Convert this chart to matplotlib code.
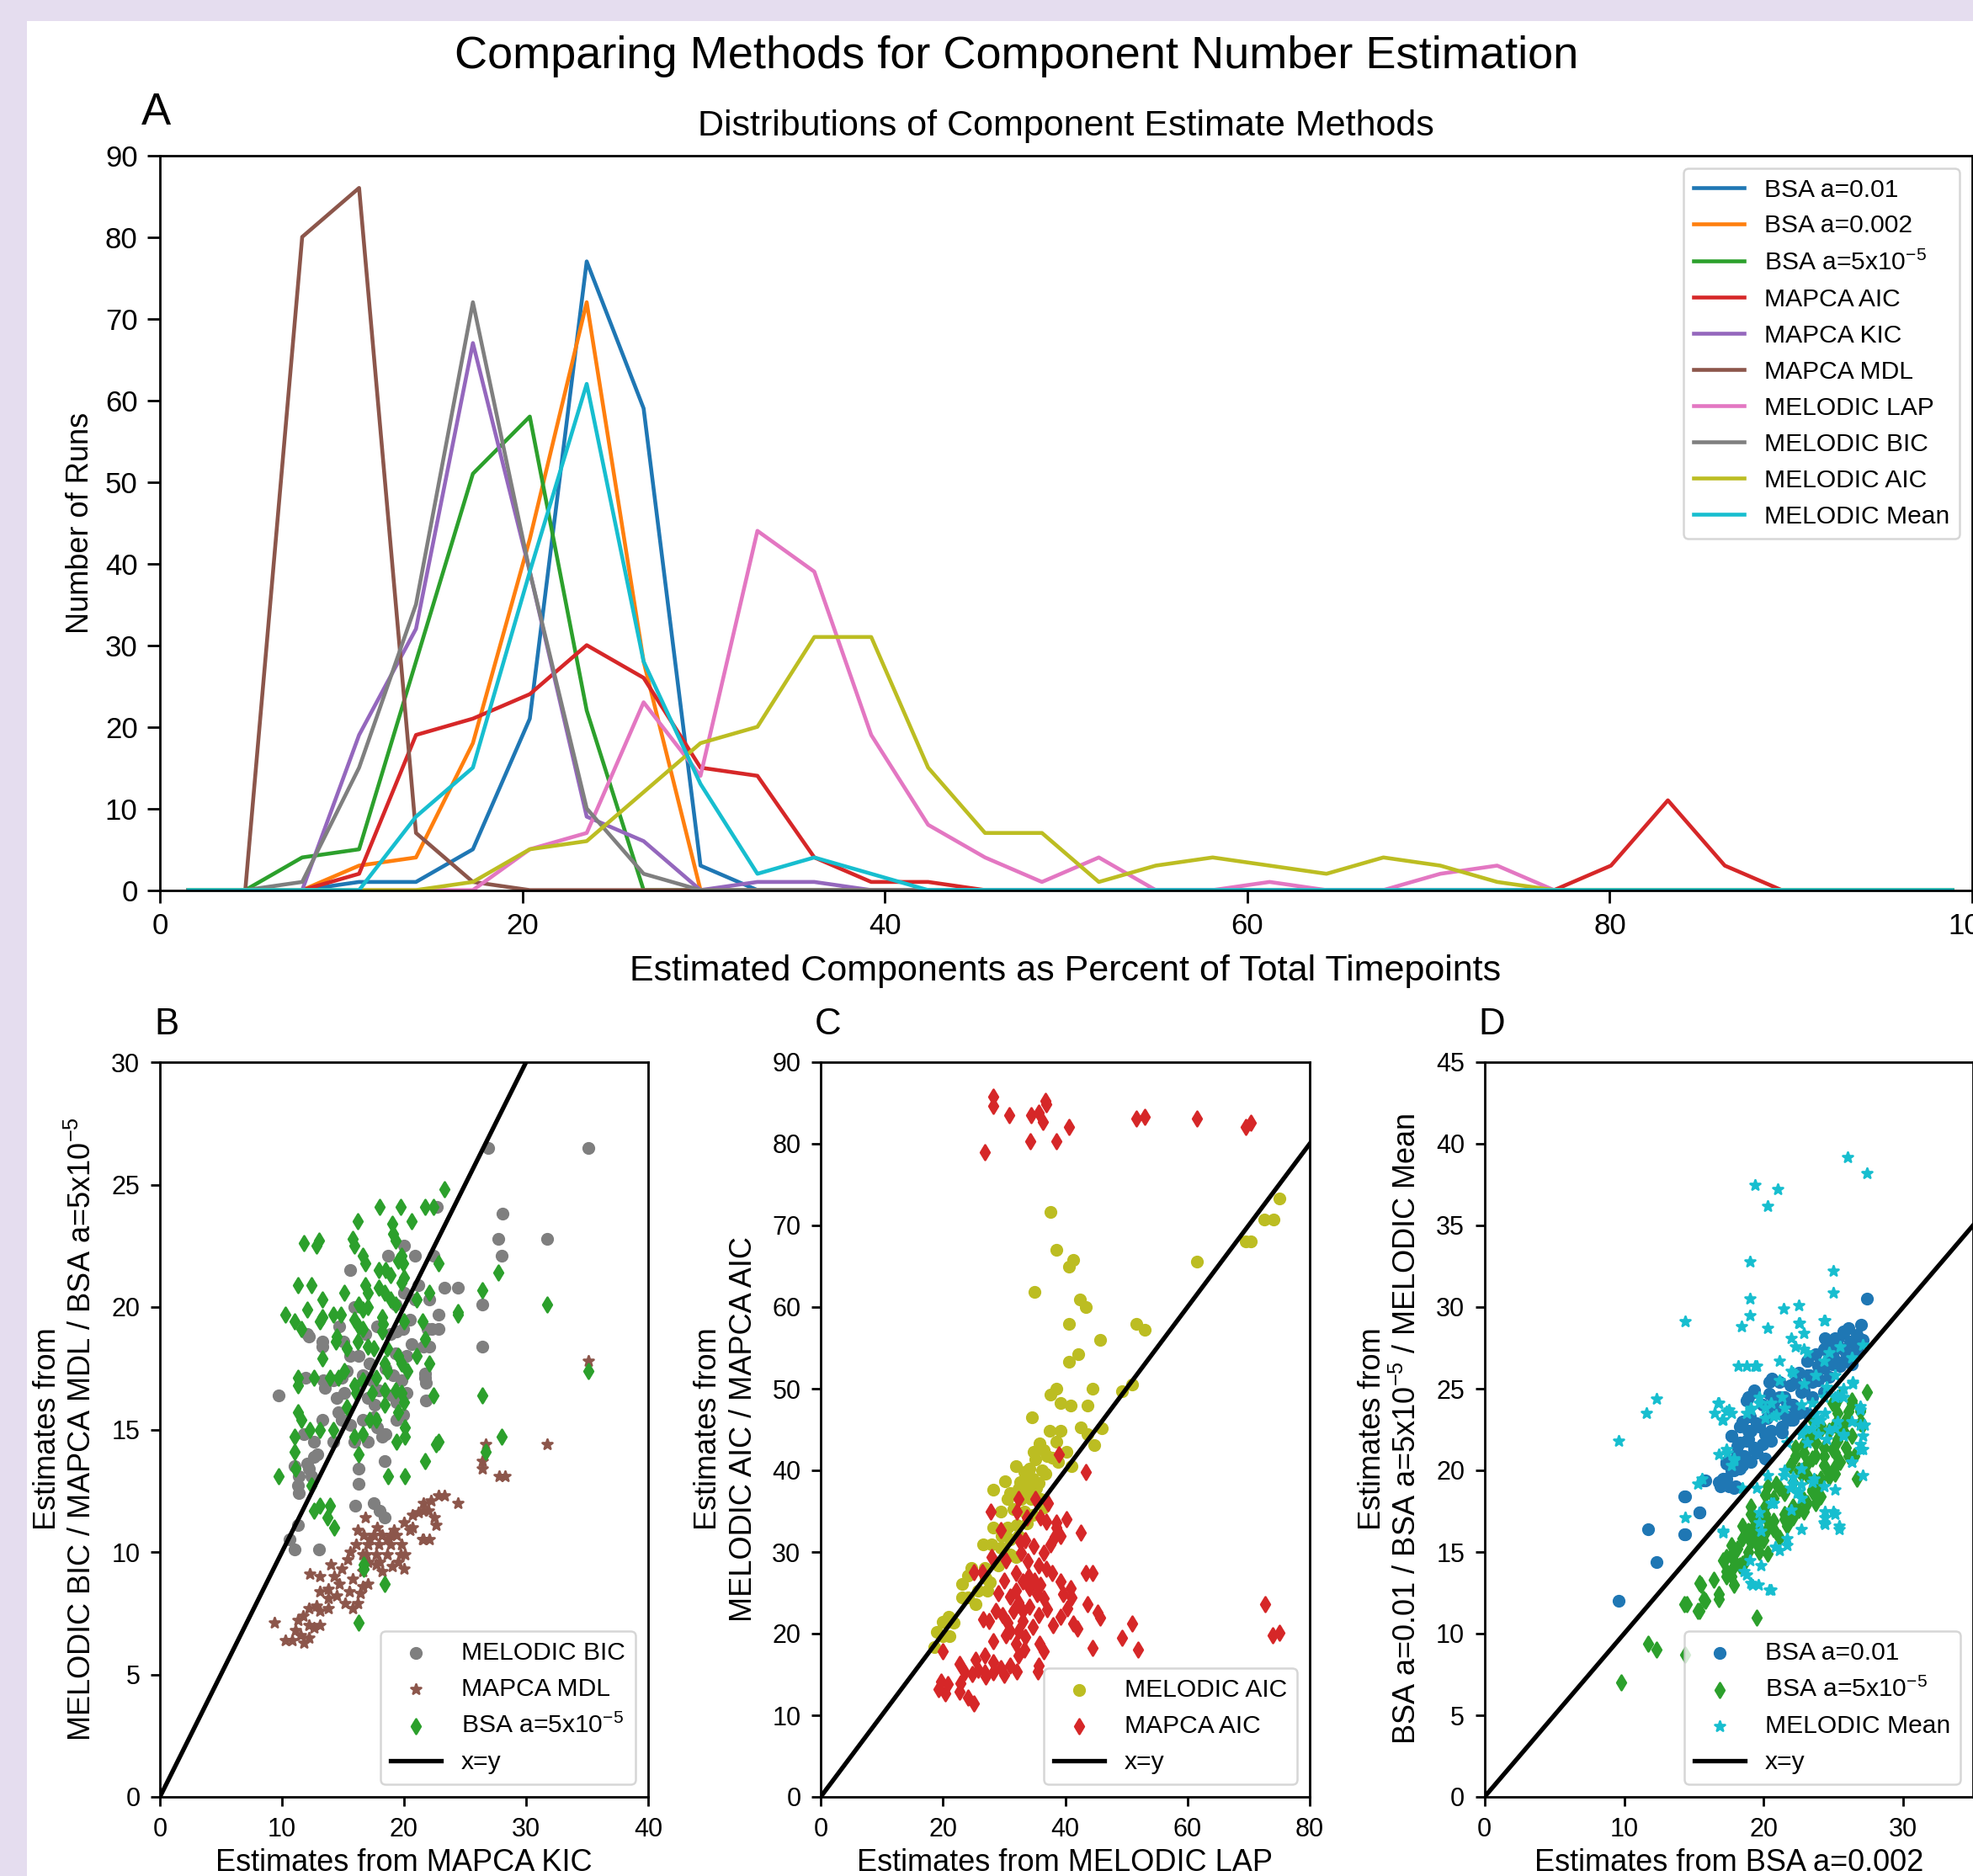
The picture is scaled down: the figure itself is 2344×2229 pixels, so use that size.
import numpy as np
import matplotlib
matplotlib.use('Agg')
import matplotlib.pyplot as plt
from matplotlib import font_manager
from matplotlib.patches import Rectangle

W, H = 2344, 2229
DPI = 100

plt.rcParams['font.family'] = ['Liberation Sans', 'DejaVu Sans']
plt.rcParams['mathtext.fontset'] = 'custom'
plt.rcParams['mathtext.rm'] = 'Liberation Sans'
plt.rcParams['mathtext.it'] = 'Liberation Sans:italic'
plt.rcParams['mathtext.bf'] = 'Liberation Sans:bold'
plt.rcParams['axes.linewidth'] = 2.0

# ---------------- panel A: histogram lines ----------------
bin_centers = [1.57, 4.71, 7.85, 10.99, 14.13, 17.27, 20.41, 23.55, 26.69, 29.83,
               32.97, 36.11, 39.25, 42.39, 45.53, 48.67, 51.81, 54.95, 58.09, 61.23,
               64.37, 67.51, 70.65, 73.79, 76.93, 80.07, 83.21, 86.35, 89.49, 92.63,
               95.77, 98.91]

bsa_01 = [0, 0, 0, 1, 1, 5, 21, 77, 59, 3, 0, 0, 0, 0, 0, 0,
          0, 0, 0, 0, 0, 0, 0, 0, 0, 0, 0, 0, 0, 0, 0, 0]
bsa_002 = [0, 0, 0, 3, 4, 18, 43, 72, 28, 0, 0, 0, 0, 0, 0, 0,
           0, 0, 0, 0, 0, 0, 0, 0, 0, 0, 0, 0, 0, 0, 0, 0]
bsa_5e5 = [0, 0, 4, 5, 28, 51, 58, 22, 0, 0, 0, 0, 0, 0, 0, 0,
           0, 0, 0, 0, 0, 0, 0, 0, 0, 0, 0, 0, 0, 0, 0, 0]
mapca_aic = [0, 0, 0, 2, 19, 21, 24, 30, 26, 15, 14, 4, 1, 1, 0, 0,
             0, 0, 0, 0, 0, 0, 0, 0, 0, 3, 11, 3, 0, 0, 0, 0]
mapca_kic = [0, 0, 0, 19, 32, 67, 39, 9, 6, 0, 1, 1, 0, 0, 0, 0,
             0, 0, 0, 0, 0, 0, 0, 0, 0, 0, 0, 0, 0, 0, 0, 0]
mapca_mdl = [0, 0, 80, 86, 7, 1, 0, 0, 0, 0, 0, 0, 0, 0, 0, 0,
             0, 0, 0, 0, 0, 0, 0, 0, 0, 0, 0, 0, 0, 0, 0, 0]
melodic_lap = [0, 0, 0, 0, 0, 0, 5, 7, 23, 14, 44, 39, 19, 8, 4, 1,
               4, 0, 0, 1, 0, 0, 2, 3, 0, 0, 0, 0, 0, 0, 0, 0]
melodic_bic = [0, 0, 1, 15, 35, 72, 39, 10, 2, 0, 0, 0, 0, 0, 0, 0,
               0, 0, 0, 0, 0, 0, 0, 0, 0, 0, 0, 0, 0, 0, 0, 0]
melodic_aic = [0, 0, 0, 0, 0, 1, 5, 6, 12, 18, 20, 31, 31, 15, 7, 7,
               1, 3, 4, 3, 2, 4, 3, 1, 0, 0, 0, 0, 0, 0, 0, 0]
melodic_mean = [0, 0, 0, 0, 9, 15, 39, 62, 28, 13, 2, 4, 2, 0, 0, 0,
                0, 0, 0, 0, 0, 0, 0, 0, 0, 0, 0, 0, 0, 0, 0, 0]

hist_series = [bsa_01, bsa_002, bsa_5e5, mapca_aic, mapca_kic, mapca_mdl,
               melodic_lap, melodic_bic, melodic_aic, melodic_mean]
hist_labels = ['BSA a=0.01', 'BSA a=0.002', 'BSA a=5x10$^{-5}$', 'MAPCA AIC',
               'MAPCA KIC', 'MAPCA MDL', 'MELODIC LAP', 'MELODIC BIC',
               'MELODIC AIC', 'MELODIC Mean']

# ---------------- panel B: x = MAPCA KIC ----------------
b_melodic_bic = [
    (26.9, 26.5), (35.1, 26.5), (28.1, 23.8), (27.7, 22.8), (31.7, 22.8), (28.0, 22.1),
    (26.4, 20.1), (26.4, 18.4), (23.3, 20.8), (24.4, 20.8), (22.7, 24.1), (9.7, 16.4),
    (11.0, 10.1), (13.0, 10.1), (11.3, 11.1), (11.4, 12.4), (11.3, 12.7), (16.0, 11.9),
    (18.0, 11.7), (18.4, 11.4), (16.3, 13.4), (16.3, 12.8), (18.4, 13.7), (12.2, 13.4),
    (12.6, 13.9), (12.2, 18.8), (20.0, 22.5), (18.7, 22.1), (20.9, 22.1), (22.4, 22.1),
    (15.6, 21.5), (22.1, 20.3), (20.9, 20.3), (15.9, 20.0), (19.3, 20.1), (22.8, 19.7),
    (22.3, 19.1), (22.8, 19.1), (12.1, 18.9), (14.7, 19.2), (13.3, 18.6), (13.3, 18.4),
    (17.8, 19.2), (18.9, 18.9), (19.4, 19.0), (19.9, 19.1), (20.6, 18.5), (21.6, 18.4),
    (22.1, 18.4), (15.6, 18.0), (16.3, 18.0), (17.2, 17.7), (19.3, 18.1), (20.2, 18.0),
    (21.7, 17.3), (21.7, 17.1), (11.9, 17.1), (13.4, 17.0), (14.2, 17.0), (15.3, 17.4),
    (16.6, 17.2), (17.4, 17.0), (19.1, 17.2), (19.8, 17.0), (20.2, 16.5), (13.5, 16.7),
    (14.5, 16.3), (15.1, 16.5), (17.0, 16.3), (17.6, 16.0), (17.9, 16.6), (19.0, 16.4),
    (19.4, 16.1), (14.6, 15.7), (14.9, 15.4), (15.6, 15.2), (16.6, 15.4), (17.5, 15.5),
    (17.8, 15.1), (18.4, 14.8), (19.4, 15.4), (19.9, 15.6), (13.3, 15.4), (11.8, 14.8),
    (12.6, 14.5), (14.2, 14.5), (15.9, 14.5), (17.0, 14.5), (18.2, 14.7), (18.5, 14.8),
    (12.9, 14.0), (12.1, 13.6), (11.0, 13.5), (11.4, 13.1), (12.4, 13.1), (21.9, 19.1),
    (21.8, 16.9), (21.8, 16.2), (14.9, 17.1), (16.1, 16.8), (18.5, 17.5), (20.5, 19.5),
    (21.2, 20.9), (20.0, 20.6), (16.8, 18.9), (15.0, 18.6), (17.5, 12.0), (10.6, 10.5),
]
b_mapca_mdl = [
    (35.1, 17.8), (31.7, 14.4), (26.7, 14.4), (26.4, 13.7), (26.4, 13.4), (27.8, 13.1),
    (28.3, 13.1), (24.4, 12.0), (23.3, 12.3), (22.8, 12.3), (21.6, 12.0), (22.2, 12.1),
    (21.6, 11.7), (20.7, 11.5), (20.0, 11.2), (22.5, 11.4), (22.6, 11.1), (22.1, 10.5),
    (21.6, 10.5), (18.9, 10.7), (19.4, 10.7), (18.2, 10.7), (17.5, 10.7), (16.7, 10.7),
    (16.8, 11.4), (16.1, 10.3), (17.0, 10.3), (17.9, 10.3), (18.9, 10.3), (19.8, 10.3),
    (15.6, 10.0), (16.6, 9.9), (17.7, 9.9), (18.6, 9.9), (19.7, 9.9), (20.1, 9.9),
    (20.0, 9.3), (19.5, 9.6), (17.7, 9.5), (18.2, 9.2), (17.0, 9.6), (15.4, 9.7),
    (16.6, 9.2), (16.6, 8.6), (16.4, 8.3), (17.0, 8.7), (15.8, 8.9), (15.5, 8.4),
    (15.2, 7.9), (15.8, 7.7), (16.2, 7.9), (14.3, 9.0), (14.7, 8.7), (13.8, 8.5),
    (13.1, 9.0), (12.3, 9.1), (13.8, 8.1), (14.5, 8.2), (13.1, 8.4), (12.8, 7.8),
    (12.2, 7.7), (13.1, 7.6), (13.8, 7.7), (11.7, 7.4), (11.3, 7.2), (12.2, 7.0),
    (12.6, 6.9), (13.1, 7.0), (11.1, 6.8), (11.5, 6.6), (12.2, 6.5), (11.8, 6.3),
    (10.3, 6.4), (10.8, 6.4), (9.4, 7.1), (20.5, 10.9), (20.7, 11.0), (21.2, 11.6),
    (22.0, 11.7), (21.5, 10.5), (17.2, 10.5), (18.6, 10.5), (19.2, 10.9), (17.8, 11.0),
    (16.2, 10.9), (18.0, 9.6), (19.0, 9.4), (16.9, 9.9), (14.9, 9.3), (14.0, 9.5),
]
b_bsa_5e5 = [
    (18.0, 24.1), (19.7, 24.1), (21.7, 24.1), (22.4, 24.1), (16.2, 23.5), (19.0, 23.4),
    (20.6, 23.5), (11.8, 22.6), (12.8, 22.5), (13.0, 22.7), (15.8, 22.8), (15.9, 22.5),
    (19.1, 23.0), (19.3, 22.7), (16.6, 22.1), (16.8, 21.8), (19.8, 22.1), (19.9, 21.8),
    (19.5, 21.9), (22.8, 21.8), (17.9, 21.5), (18.5, 21.5), (18.9, 21.3), (11.3, 20.9),
    (12.4, 20.9), (15.1, 20.6), (16.8, 20.9), (17.0, 20.6), (17.9, 20.8), (18.4, 20.6),
    (18.9, 20.3), (19.3, 20.1), (19.8, 21.0), (20.0, 21.2), (21.0, 20.3), (22.1, 20.6),
    (13.3, 20.3), (12.1, 19.9), (10.3, 19.7), (11.0, 19.4), (11.6, 19.1), (13.3, 19.6),
    (13.1, 19.4), (14.2, 19.7), (14.8, 19.7), (16.3, 20.1), (16.6, 19.9), (17.0, 20.0),
    (15.9, 19.5), (16.3, 19.2), (16.6, 19.1), (18.2, 19.6), (18.3, 19.3), (18.2, 19.0),
    (20.0, 19.4), (21.5, 19.4), (24.4, 19.7), (14.5, 18.8), (14.4, 18.6), (15.3, 18.3),
    (16.2, 18.6), (17.0, 18.4), (17.5, 18.3), (18.6, 18.3), (19.5, 18.0), (19.8, 17.7),
    (21.0, 18.0), (13.3, 17.9), (18.4, 17.7), (18.6, 17.4), (22.1, 17.7), (21.7, 18.7),
    (11.3, 17.1), (11.3, 16.8), (12.6, 17.1), (13.9, 17.1), (14.6, 17.1), (15.1, 17.4),
    (15.9, 16.8), (16.1, 16.5), (16.6, 17.0), (17.7, 17.1), (17.4, 16.5), (18.4, 16.6),
    (19.3, 16.6), (19.8, 16.5), (20.0, 16.1), (19.5, 15.7), (20.3, 17.4), (22.4, 16.4),
    (26.4, 16.4), (11.3, 15.7), (11.6, 15.4), (12.3, 15.0), (13.1, 15.0), (14.2, 15.0),
    (15.3, 15.9), (15.9, 14.7), (16.6, 14.8), (17.2, 15.4), (17.7, 15.4), (18.4, 16.0),
    (19.4, 14.5), (20.1, 14.7), (20.1, 15.1), (22.8, 14.5), (11.0, 14.7), (11.0, 14.1),
    (16.3, 14.0), (21.7, 13.7), (18.7, 13.1), (20.1, 13.1), (9.7, 13.1), (11.1, 13.4),
    (28.0, 14.7), (27.7, 21.4), (26.4, 20.7), (23.3, 24.8), (24.4, 19.8), (22.6, 14.4),
    (16.3, 7.1), (18.4, 8.7), (16.7, 9.5), (16.7, 9.3), (14.3, 11.0), (13.7, 11.4),
    (13.1, 11.9), (12.6, 11.7), (13.9, 11.9), (12.4, 12.7), (31.7, 20.1), (35.1, 17.4),
    (26.7, 14.1),
]

# ---------------- panel C: x = MELODIC LAP ----------------
c_melodic_aic = [
    (37.6, 71.7), (38.6, 67.0), (40.6, 65.0), (41.3, 65.8), (35.0, 61.9), (42.4, 60.9),
    (43.4, 60.0), (40.6, 57.9), (51.6, 57.9), (53.0, 57.2), (45.7, 56.0), (42.2, 54.2),
    (40.6, 53.3), (61.5, 65.6), (69.5, 68.0), (70.4, 68.0), (72.5, 70.7), (74.1, 70.7),
    (75.1, 73.3), (49.3, 49.7), (50.9, 50.5), (37.6, 49.3), (38.6, 50.0), (44.5, 50.0),
    (39.2, 48.2), (40.9, 47.9), (43.6, 47.9), (34.6, 46.5), (37.4, 44.8), (39.2, 44.8),
    (42.5, 45.3), (43.6, 44.4), (44.7, 43.1), (46.0, 45.2), (38.6, 43.5), (40.2, 42.3),
    (41.1, 40.5), (35.8, 43.3), (36.5, 42.5), (34.9, 42.3), (35.1, 41.3), (37.0, 41.8),
    (37.9, 41.5), (38.8, 41.0), (31.9, 40.5), (33.3, 39.8), (33.7, 39.2), (34.7, 39.0),
    (35.6, 38.5), (28.2, 37.6), (30.1, 38.7), (31.0, 37.2), (32.4, 37.7), (33.7, 37.7),
    (30.5, 36.5), (32.8, 36.5), (34.4, 36.5), (36.0, 36.5), (36.5, 35.5), (31.5, 35.3),
    (33.3, 35.0), (34.7, 34.5), (29.4, 35.0), (28.2, 33.0), (30.5, 33.0), (32.1, 33.3),
    (33.7, 33.5), (29.6, 32.0), (31.0, 31.5), (32.4, 32.0), (26.6, 30.9), (28.0, 30.9),
    (29.4, 30.5), (31.9, 29.4), (31.0, 29.7), (24.6, 28.0), (26.9, 28.0), (29.1, 28.4),
    (23.2, 24.4), (24.1, 24.4), (25.3, 23.6), (25.7, 25.3), (27.3, 25.3), (20.9, 22.1),
    (20.0, 21.4), (21.8, 21.3), (19.0, 20.2), (19.9, 19.7), (21.1, 19.7), (18.6, 18.3),
    (23.2, 26.1), (24.1, 27.1), (27.0, 26.8), (27.7, 26.3), (35.3, 37.8), (34.0, 38.2),
    (36.8, 39.6), (32.6, 38.6), (34.2, 40.2), (36.2, 40.0),
]
c_mapca_aic = [
    (28.2, 85.8), (28.2, 84.6), (30.9, 83.5), (34.4, 83.5), (35.6, 83.8), (36.7, 85.3),
    (36.9, 84.8), (36.4, 82.7), (40.6, 82.1), (34.3, 80.3), (38.6, 80.3), (26.9, 79.0),
    (51.6, 83.1), (53.0, 83.3), (61.6, 83.1), (69.5, 82.1), (70.4, 82.6),
    (72.7, 23.6), (73.9, 19.8), (75.1, 20.1), (50.9, 21.2), (49.3, 19.5), (51.9, 18.0),
    (44.5, 18.2), (45.7, 22.0), (45.3, 22.6), (43.6, 23.6), (43.4, 27.4), (44.5, 27.4),
    (42.5, 32.4), (43.4, 39.8), (39.0, 42.0), (40.2, 34.0), (38.6, 33.0), (39.3, 32.0),
    (40.9, 25.6), (41.1, 24.4), (42.0, 20.6), (41.3, 21.2),
    (27.8, 35.0), (32.4, 36.5), (35.1, 36.5), (29.4, 32.7), (32.1, 35.0), (33.7, 34.2),
    (36.0, 34.2), (36.9, 33.7), (38.6, 33.6), (28.0, 29.4), (25.0, 27.5), (26.4, 27.5),
    (33.5, 31.4), (34.9, 30.7), (36.5, 29.9), (37.6, 30.9), (38.3, 31.9), (32.8, 29.9),
    (33.9, 28.9), (35.6, 28.4), (36.9, 27.9), (37.9, 27.4), (39.2, 26.4), (31.9, 27.4),
    (33.1, 26.4), (34.2, 25.6), (35.4, 24.8), (36.5, 24.3), (39.7, 24.8), (40.4, 23.1),
    (39.2, 22.1), (31.9, 25.3), (32.4, 23.8), (31.5, 22.8), (33.1, 22.8), (34.2, 23.3),
    (35.6, 22.3), (26.6, 21.8), (27.5, 21.5), (28.7, 22.8), (29.8, 22.3), (30.5, 21.3),
    (31.0, 20.3), (32.4, 20.3), (33.5, 19.6), (34.7, 20.8), (35.8, 18.8), (36.5, 17.8),
    (28.2, 19.1), (30.3, 19.8), (31.9, 18.8), (32.4, 17.3), (33.3, 18.0), (26.9, 17.3),
    (28.2, 16.5), (29.4, 15.8), (31.0, 16.1), (32.1, 15.4), (25.3, 16.8), (25.7, 15.6),
    (26.9, 15.3), (28.2, 15.3), (22.7, 16.3), (23.6, 15.3), (19.9, 17.8), (19.7, 14.1),
    (20.8, 13.8), (19.3, 13.2), (20.4, 12.7), (22.7, 12.9), (24.1, 12.2), (25.0, 11.4),
    (22.9, 13.9), (24.8, 15.1), (35.6, 16.1), (35.5, 15.4), (30.0, 14.9), (27.0, 14.7),
    (33.0, 21.5), (34.0, 27.0), (35.0, 26.5), (36.0, 26.0), (37.0, 23.0), (38.0, 21.0),
    (30.0, 26.5), (31.0, 24.5), (29.0, 25.0), (30.3, 29.0), (37.2, 36.0), (32.6, 31.2),
]

# ---------------- panel D: x = BSA a=0.002 ----------------
d_bsa_01 = [
    (9.6, 12.0), (12.3, 14.4), (11.7, 16.4), (14.4, 16.1), (14.4, 18.4), (15.4, 17.4),
    (15.8, 19.4), (16.9, 19.0), (17.5, 19.0), (18.0, 19.0), (17.1, 19.5), (17.3, 20.4),
    (17.9, 20.6), (18.6, 20.9), (17.7, 20.0), (18.3, 20.1), (17.7, 22.1), (18.1, 21.5),
    (18.8, 21.8), (19.3, 21.3), (18.3, 22.7), (18.9, 22.4), (19.7, 22.7), (20.1, 22.2),
    (20.5, 21.8), (19.0, 23.3), (19.5, 22.9), (20.2, 23.2), (18.8, 24.3), (19.3, 24.9),
    (19.9, 24.0), (20.4, 24.7), (20.7, 24.2), (20.6, 25.6), (21.1, 25.4), (21.5, 24.5),
    (22.1, 24.0), (22.5, 23.6), (21.7, 23.3), (22.3, 25.4), (22.9, 24.9), (23.5, 25.4),
    (23.9, 25.6), (24.3, 26.3), (24.9, 26.5), (23.1, 26.7), (23.7, 27.1), (24.3, 27.4),
    (24.7, 27.6), (25.3, 28.0), (25.7, 28.5), (26.1, 28.7), (24.5, 28.0), (24.9, 27.8),
    (25.7, 27.4), (26.3, 27.9), (26.7, 28.3), (27.0, 28.9), (25.0, 26.9), (25.8, 26.7),
    (26.5, 27.1), (23.3, 25.8), (24.1, 26.3), (20.5, 22.4), (21.3, 22.7), (22.1, 23.1),
    (27.4, 30.5), (27.1, 28.0), (25.7, 28.4), (24.4, 28.1), (25.1, 28.1), (26.2, 27.9),
    (24.4, 27.5), (25.1, 27.4), (25.9, 27.2), (26.7, 27.4), (23.1, 26.7), (23.9, 26.4),
    (24.7, 26.6), (25.5, 26.4), (26.3, 26.5), (22.5, 26.0), (23.1, 25.8), (23.9, 25.5),
    (24.7, 25.7), (20.4, 25.4), (21.9, 25.2), (22.7, 24.8), (23.5, 24.5), (24.3, 24.8),
    (19.3, 24.8), (18.9, 24.5), (21.1, 24.5), (21.7, 24.1), (22.3, 23.8), (23.1, 23.5),
    (20.7, 23.8), (21.1, 23.5), (21.9, 23.1), (22.5, 23.5), (18.5, 23.0), (19.1, 22.4),
    (19.7, 22.8), (20.3, 22.1), (21.3, 22.3), (17.7, 22.1), (18.3, 21.7), (18.9, 21.9),
    (19.3, 21.4), (19.9, 21.6), (18.1, 21.1), (18.7, 20.7), (19.5, 21.1), (20.1, 20.7),
    (17.3, 20.5), (17.9, 20.0), (18.5, 20.3), (19.1, 20.5), (16.8, 19.3), (17.3, 19.5),
    (17.9, 18.9), (15.7, 19.4), (14.3, 18.4), (15.4, 17.4), (14.3, 16.1),
]
d_bsa_5e5 = [
    (9.8, 7.0), (11.7, 9.4), (12.3, 9.0), (14.4, 8.7), (15.4, 11.4), (15.8, 12.0),
    (14.5, 11.8), (16.8, 12.1), (15.4, 13.1), (19.5, 11.0), (17.1, 14.5), (17.7, 14.8),
    (17.3, 13.5), (18.1, 15.2), (18.5, 15.8), (18.9, 16.3), (19.3, 16.6), (19.7, 17.0),
    (20.1, 17.3), (17.9, 14.1), (18.5, 14.3), (18.9, 15.0), (19.5, 15.5), (20.0, 15.7),
    (20.1, 16.2), (20.7, 16.9), (21.5, 17.3), (22.1, 17.8), (22.9, 18.2), (23.5, 18.7),
    (24.1, 19.1), (21.7, 16.6), (22.1, 17.1), (22.9, 17.5), (23.7, 18.0), (24.1, 18.4),
    (19.1, 17.8), (20.1, 18.5), (20.3, 19.0), (20.9, 19.2), (22.1, 19.3), (22.7, 19.8),
    (23.1, 20.4), (23.7, 20.9), (22.3, 20.9), (22.9, 21.6), (23.5, 22.0), (24.1, 22.5),
    (24.3, 20.9), (24.9, 21.3), (25.3, 21.8), (25.5, 22.5), (25.8, 22.9), (26.1, 23.6),
    (24.9, 24.1), (25.4, 24.5), (26.3, 24.3), (26.9, 23.7), (27.4, 24.8), (26.5, 20.9),
    (26.9, 22.9), (26.7, 19.5), (24.7, 19.6), (25.1, 20.2), (16.4, 13.3),
    (25.1, 24.0), (26.3, 24.1), (26.9, 23.6), (27.1, 22.8), (25.3, 23.5), (25.9, 23.1),
    (25.1, 22.8), (25.7, 22.4), (26.3, 22.1), (23.5, 23.1), (24.1, 22.8), (24.7, 22.4),
    (25.3, 21.9), (25.9, 21.4), (26.1, 20.9), (23.1, 22.1), (23.7, 21.7), (24.3, 21.4),
    (25.1, 21.1), (25.5, 20.5), (25.1, 19.8), (22.3, 21.4), (22.9, 21.1), (23.5, 20.7),
    (24.3, 20.3), (24.7, 19.8), (24.1, 19.5), (21.9, 20.3), (22.5, 20.0), (23.1, 19.7),
    (23.7, 19.3), (23.5, 18.8), (23.9, 18.5), (23.1, 18.0), (22.5, 17.6), (21.9, 17.3),
    (21.5, 17.0), (21.1, 18.9), (21.5, 18.6), (20.7, 18.3), (20.1, 17.8), (20.3, 16.9),
    (20.7, 16.4), (21.1, 15.9), (19.1, 17.3), (18.5, 16.6), (19.5, 16.1), (19.1, 15.6),
    (19.7, 15.0), (20.3, 14.9), (17.7, 15.4), (17.3, 14.7), (17.9, 14.5), (18.3, 14.2),
    (18.7, 14.5), (17.3, 13.8), (17.7, 13.5), (17.9, 13.0), (15.5, 13.0), (15.7, 12.1),
    (16.8, 12.4), (14.3, 11.8), (15.3, 11.4),
]
d_melodic_mean = [
    (26.0, 39.2), (27.4, 38.2), (19.4, 37.5), (21.0, 37.2), (20.3, 36.2), (19.0, 32.8),
    (25.0, 32.2), (25.0, 30.9), (19.0, 30.5), (19.0, 29.5), (14.4, 29.1), (18.4, 28.8),
    (20.3, 28.7), (21.4, 29.9), (22.5, 30.1), (22.5, 29.0), (24.3, 29.2), (22.0, 28.1),
    (22.9, 27.4), (18.2, 26.4), (18.8, 26.4), (19.5, 26.4), (21.1, 26.7), (12.3, 24.4),
    (11.6, 23.5), (9.6, 21.8), (16.8, 24.1), (17.5, 23.7), (17.0, 23.1), (16.5, 23.5),
    (17.3, 21.3), (16.8, 21.0), (17.9, 20.6), (15.3, 19.2), (15.6, 19.5), (14.4, 17.1),
    (17.1, 16.3), (19.2, 13.0), (20.4, 12.7), (18.6, 13.8), (21.7, 15.8), (20.8, 15.3),
    (24.4, 17.5), (25.0, 17.5), (24.3, 16.8), (25.4, 16.6), (26.3, 20.5), (26.9, 21.3),
    (27.2, 22.8), (26.9, 23.7), (26.4, 25.3), (23.6, 19.5), (22.7, 20.1), (21.5, 20.0),
    (21.7, 21.7), (22.1, 19.2), (22.5, 18.7), (22.0, 17.6), (20.5, 18.0), (19.7, 17.4),
    (23.0, 22.6), (23.7, 23.0), (24.4, 23.5), (25.1, 24.5), (25.7, 25.0), (26.4, 25.4),
    (24.7, 22.5), (25.3, 23.0), (25.7, 22.2), (26.3, 23.0), (22.1, 26.0), (22.9, 25.3),
    (23.7, 25.8), (24.5, 25.1), (25.1, 25.8), (20.5, 24.1), (21.3, 24.5), (20.1, 23.2),
    (20.9, 23.4), (19.1, 23.7), (19.7, 24.1), (22.6, 29.0), (24.4, 29.2), (22.9, 28.4),
    (22.3, 27.6), (23.1, 27.2), (19.4, 26.4), (22.0, 26.1), (21.1, 25.5), (16.7, 24.1),
    (17.3, 23.6), (17.7, 23.5), (17.1, 23.1), (19.7, 24.5), (20.1, 23.8), (19.1, 23.8),
    (18.8, 23.5), (20.7, 23.3), (21.5, 23.8), (22.7, 24.0), (23.5, 24.1), (24.3, 24.5),
    (24.3, 26.7), (24.7, 27.2), (25.5, 27.6), (26.3, 26.9), (27.1, 27.7), (25.7, 24.5),
    (25.3, 24.6), (26.9, 23.9), (23.7, 23.5), (24.1, 23.1), (23.5, 22.6), (22.7, 22.2),
    (23.1, 21.7), (23.9, 22.2), (24.5, 21.9), (25.1, 22.6), (25.7, 22.1), (26.9, 22.8),
    (27.1, 22.1), (26.9, 21.6), (27.1, 21.3), (26.3, 20.5), (27.1, 19.7), (17.4, 21.1),
    (17.9, 20.7), (17.7, 20.3), (18.5, 18.9), (19.5, 18.9), (20.3, 19.7), (21.4, 19.7),
    (22.1, 19.6), (22.7, 19.1), (23.5, 19.3), (24.3, 19.0), (25.1, 18.8), (21.9, 18.9),
    (22.4, 18.6), (22.7, 18.3), (20.7, 18.0), (19.7, 16.8), (19.8, 16.3), (24.4, 17.1),
    (25.1, 17.3), (24.4, 16.7), (25.4, 16.4), (22.7, 16.4), (21.7, 15.4), (21.1, 15.1),
    (19.8, 14.2), (19.0, 14.5), (18.8, 13.6), (19.1, 13.1), (19.6, 13.0), (20.5, 12.7),
    (17.1, 16.2),
]


def px_axes(fig, left, top, right, bottom):
    return fig.add_axes([left / W, 1 - bottom / H, (right - left) / W, (bottom - top) / H])


def ftext(fig, x, y, s, **kw):
    return fig.text(x / W, 1 - y / H, s, **kw)


fig = plt.figure(figsize=(W / DPI, H / DPI), dpi=DPI)
fig.patch.set_facecolor('#e5ddef')
fig.add_artist(Rectangle((32 / W, 0), 1, 1 - 25 / H, transform=fig.transFigure,
                         facecolor='white', edgecolor='none', zorder=-10))

names = {f.name for f in font_manager.fontManager.ttflist}
if 'Liberation Sans Narrow' in names:
    ftext(fig, 1208, 81, 'Comparing Methods for Component Number Estimation',
          family='Liberation Sans Narrow', fontsize=46, ha='center', va='baseline')
else:
    ftext(fig, 1208, 81, 'Comparing Methods for Component Number Estimation',
          fontsize=39, ha='center', va='baseline')

# ---- A ----
axA = px_axes(fig, 190, 184.5, 2343, 1057.6)
for vals, lab in zip(hist_series, hist_labels):
    axA.plot(bin_centers, vals, lw=3.3, label=lab)
axA.set_xlim(0, 100)
axA.set_ylim(0, 90)
axA.set_xticks([0, 20, 40, 60, 80, 100])
axA.set_yticks(range(0, 91, 10))
axA.tick_params(labelsize=25, length=11, width=2.0, pad=8)
legA = axA.legend(loc='upper right', fontsize=21.6)
legA.get_frame().set_linewidth(1.8)
ftext(fig, 168, 148, 'A', fontsize=38, ha='left', va='baseline')
ftext(fig, 1266, 161, 'Distributions of Component Estimate Methods', fontsize=31,
      ha='center', va='baseline')
ftext(fig, 1266, 1165, 'Estimated Components as Percent of Total Timepoints', fontsize=31,
      ha='center', va='baseline')
ftext(fig, 105, 621, 'Number of Runs', fontsize=26, rotation=90, rotation_mode='anchor',
      ha='center', va='baseline')


def scatter_panel(left, right, letter, series, xlim, ylim, xticks, yticks, xlabel, ylabel2):
    ax = px_axes(fig, left, 1262, right, 2135)
    for pts, marker, color, lab in series:
        x, y = np.array(pts).T
        ax.scatter(x, y, s=80, marker=marker, c=color, linewidths=2.0,
                   edgecolors='face', label=lab)
    lim = min(xlim[1], ylim[1])
    ax.plot([0, lim], [0, lim], color='black', lw=3.8, label='x=y')
    ax.set_xlim(*xlim)
    ax.set_ylim(*ylim)
    ax.set_xticks(xticks)
    ax.set_yticks(yticks)
    ax.tick_params(labelsize=22, length=8, width=2.0, pad=9)
    leg = ax.legend(loc='lower right', fontsize=21.6)
    leg.get_frame().set_linewidth(1.8)
    cx = (left + right) / 2
    ftext(fig, left - 7, 1229, letter, fontsize=31.5, ha='left', va='baseline')
    ftext(fig, cx, 2223, xlabel, fontsize=26, ha='center', va='baseline')
    ftext(fig, left - 124, 1698, 'Estimates from', fontsize=26, rotation=90,
          rotation_mode='anchor', ha='center', va='baseline')
    ftext(fig, left - 82, 1698, ylabel2, fontsize=26, rotation=90,
          rotation_mode='anchor', ha='center', va='baseline')
    return ax


scatter_panel(190, 770, 'B',
              [(b_melodic_bic, 'o', 'tab:gray', 'MELODIC BIC'),
               (b_mapca_mdl, '*', 'tab:brown', 'MAPCA MDL'),
               (b_bsa_5e5, 'd', 'tab:green', 'BSA a=5x10$^{-5}$')],
              (0, 40), (0, 30), [0, 10, 20, 30, 40], range(0, 31, 5),
              'Estimates from MAPCA KIC', 'MELODIC BIC / MAPCA MDL / BSA a=5x10$^{-5}$')

scatter_panel(975, 1556, 'C',
              [(c_melodic_aic, 'o', 'tab:olive', 'MELODIC AIC'),
               (c_mapca_aic, 'd', 'tab:red', 'MAPCA AIC')],
              (0, 80), (0, 90), [0, 20, 40, 60, 80], range(0, 91, 10),
              'Estimates from MELODIC LAP', 'MELODIC AIC / MAPCA AIC')

scatter_panel(1763.7, 2344, 'D',
              [(d_bsa_01, 'o', 'tab:blue', 'BSA a=0.01'),
               (d_bsa_5e5, 'd', 'tab:green', 'BSA a=5x10$^{-5}$'),
               (d_melodic_mean, '*', 'tab:cyan', 'MELODIC Mean')],
              (0, 35), (0, 45), [0, 10, 20, 30], range(0, 46, 5),
              'Estimates from BSA a=0.002', 'BSA a=0.01 / BSA a=5x10$^{-5}$ / MELODIC Mean')

fig.savefig('out.png', dpi=DPI)
